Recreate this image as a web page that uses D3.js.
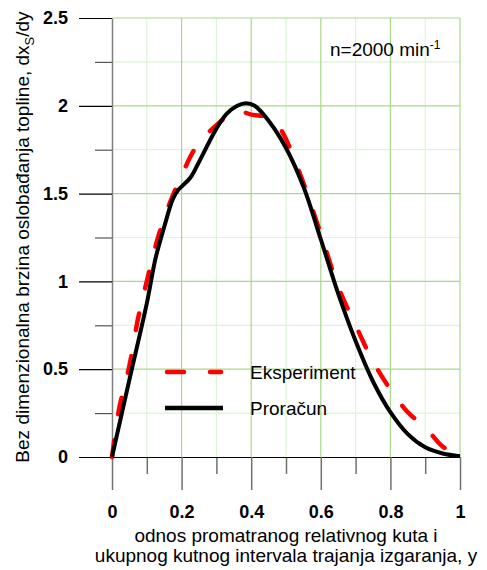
<!DOCTYPE html>
<html>
<head>
<meta charset="utf-8">
<script src="https://cdn.jsdelivr.net/npm/d3@7"></script>
<style>
  body { margin: 0; background: #fff; }
  svg { display: block; font-family: "Liberation Sans", Arial, sans-serif; }
</style>
</head>
<body>
<svg id="chart" width="487" height="570"></svg>
<script>
// ---- data ----
const xMajorTicks = [0, 0.2, 0.4, 0.6, 0.8, 1];
const xMinorTicks = [0.1, 0.3, 0.5, 0.7, 0.9];
const xTickLabels = ["0", "0.2", "0.4", "0.6", "0.8", "1"];
const yMajorTicks = [0, 0.5, 1, 1.5, 2, 2.5];
const yMinorTicks = [0.25, 0.75, 1.25, 1.75, 2.25];
const yTickLabels = ["0", "0.5", "1", "1.5", "2", "2.5"];

const seriesNames = ["Eksperiment", "Proračun"];

// Eksperiment (red dashed)
const expX = [0, 0.02, 0.05, 0.075, 0.1, 0.125, 0.15, 0.175, 0.2, 0.225, 0.25, 0.3, 0.35, 0.375, 0.4, 0.45, 0.475, 0.5, 0.525, 0.55, 0.6, 0.65, 0.7, 0.75, 0.8, 0.85, 0.9, 0.95, 1.0];
const expY = [0, 0.27, 0.52, 0.79, 1.0, 1.2, 1.36, 1.49, 1.6, 1.71, 1.79, 1.89, 1.965, 1.965, 1.95, 1.935, 1.895, 1.81, 1.69, 1.56, 1.27, 0.97, 0.75, 0.545, 0.385, 0.255, 0.17, 0.06, 0.01];

// Proračun (black solid)
const calX = [0, 0.05, 0.1, 0.125, 0.15, 0.175, 0.19, 0.2, 0.225, 0.25, 0.3, 0.33, 0.36, 0.385, 0.41, 0.45, 0.5, 0.55, 0.6, 0.65, 0.7, 0.75, 0.8, 0.85, 0.9, 0.95, 1.0];
const calY = [0, 0.44, 0.875, 1.13, 1.31, 1.47, 1.52, 1.54, 1.59, 1.68, 1.87, 1.955, 2.0, 2.015, 2.0, 1.915, 1.76, 1.54, 1.24, 0.93, 0.66, 0.43, 0.255, 0.13, 0.055, 0.02, 0.005];

const yTitleMain = "Bez dimenzionalna brzina oslobađanja topline, dx";
const yTitleSub = "S";
const yTitleEnd = "/dy";
const xTitle1 = "odnos promatranog relativnog kuta i";
const xTitle2 = "ukupnog kutnog intervala trajanja izgaranja, y";
const annotMain = "n=2000 min";
const annotSup = "-1";

// ---- layout ----
const svg = d3.select("#chart");
const x = d3.scaleLinear().domain([0, 1]).range([112, 460]);
const y = d3.scaleLinear().domain([0, 2.5]).range([457, 18]);

const majorGrid = "#a8d98a";
const minorGrid = "#dcf6d4";

// grid
const grid = svg.append("g");
grid.selectAll(".gxm").data(xMinorTicks).enter().append("line")
  .attr("x1", d => x(d)).attr("x2", d => x(d)).attr("y1", y(0)).attr("y2", y(2.5))
  .attr("stroke", minorGrid).attr("stroke-width", 1.2);
grid.selectAll(".gym").data(yMinorTicks).enter().append("line")
  .attr("x1", x(0)).attr("x2", x(1)).attr("y1", d => y(d)).attr("y2", d => y(d))
  .attr("stroke", minorGrid).attr("stroke-width", 1.2);
grid.selectAll(".gxM").data(xMajorTicks.slice(1)).enter().append("line")
  .attr("x1", d => x(d)).attr("x2", d => x(d)).attr("y1", y(0)).attr("y2", y(2.5))
  .attr("stroke", majorGrid).attr("stroke-width", 1.2);
grid.selectAll(".gyM").data(yMajorTicks.slice(1)).enter().append("line")
  .attr("x1", x(0)).attr("x2", x(1)).attr("y1", d => y(d)).attr("y2", d => y(d))
  .attr("stroke", majorGrid).attr("stroke-width", 1.2);

// y axis minor ticks
const yMin = svg.append("g").attr("transform", `translate(${x(0)},0)`)
  .call(d3.axisLeft(y).tickValues(yMinorTicks).tickSize(17).tickSizeOuter(0).tickFormat(""));
yMin.select(".domain").remove();
yMin.selectAll(".tick line").attr("stroke", "#555").attr("stroke-width", 1.2);

// y axis major
const yAx = svg.append("g").attr("transform", `translate(${x(0)},0)`)
  .call(d3.axisLeft(y).tickValues(yMajorTicks).tickSize(33).tickSizeOuter(0).tickPadding(11)
    .tickFormat((d, i) => yTickLabels[i]));
yAx.select(".domain").attr("stroke", "#808080").attr("stroke-width", 1.5);
yAx.selectAll(".tick line").attr("stroke", "#000").attr("stroke-width", 1.2);
yAx.selectAll(".tick text").attr("font-size", 18).attr("font-weight", "bold")
  .attr("font-family", "Liberation Sans, Arial, sans-serif").attr("fill", "#000");

// x axis minor ticks
const xMin = svg.append("g").attr("transform", `translate(0,${y(0)})`)
  .call(d3.axisBottom(x).tickValues(xMinorTicks).tickSize(17).tickSizeOuter(0).tickFormat(""));
xMin.select(".domain").remove();
xMin.selectAll(".tick line").attr("stroke", "#707070").attr("stroke-width", 1.5);

// x axis major
const xAx = svg.append("g").attr("transform", `translate(0,${y(0)})`)
  .call(d3.axisBottom(x).tickValues(xMajorTicks).tickSize(33).tickSizeOuter(0).tickPadding(15)
    .tickFormat((d, i) => xTickLabels[i]));
xAx.select(".domain").attr("stroke", "#000").attr("stroke-width", 1.2);
xAx.selectAll(".tick line").attr("stroke", "#707070").attr("stroke-width", 1.5);
xAx.selectAll(".tick text").attr("font-size", 18).attr("font-weight", "bold")
  .attr("font-family", "Liberation Sans, Arial, sans-serif").attr("fill", "#000");

// curves
const line = d3.line().x(d => x(d[0])).y(d => y(d[1])).curve(d3.curveCatmullRom.alpha(0.5));
const expData = expX.map((v, i) => [v, expY[i]]);
const calData = calX.map((v, i) => [v, calY[i]]);

svg.append("path").datum(expData).attr("d", line)
  .attr("fill", "none").attr("stroke", "#ff0000").attr("stroke-width", 4.5)
  .attr("stroke-dasharray", "17,26").attr("stroke-linecap", "round");
svg.append("path").datum(calData).attr("d", line)
  .attr("fill", "none").attr("stroke", "#000").attr("stroke-width", 4);

// legend
const lg = svg.append("g");
lg.append("line").attr("x1", 167).attr("x2", 221).attr("y1", 372).attr("y2", 372)
  .attr("stroke", "#ff0000").attr("stroke-width", 4.5)
  .attr("stroke-dasharray", "17,26").attr("stroke-linecap", "round");
lg.append("line").attr("x1", 165).attr("x2", 223).attr("y1", 408).attr("y2", 408)
  .attr("stroke", "#000").attr("stroke-width", 4.5);
lg.append("text").attr("x", 250).attr("y", 379).attr("font-size", 19).text(seriesNames[0]);
lg.append("text").attr("x", 250).attr("y", 415).attr("font-size", 19).text(seriesNames[1]);

// annotation
const an = svg.append("text").attr("x", 330).attr("y", 56).attr("font-size", 19);
an.append("tspan").text(annotMain);
an.append("tspan").attr("font-size", 12).attr("dy", -7).text(annotSup);

// y title
const yt = svg.append("text").attr("transform", "translate(29,237) rotate(-90)")
  .attr("text-anchor", "middle").attr("font-size", 19);
yt.append("tspan").text(yTitleMain);
yt.append("tspan").attr("font-size", 13).attr("dy", 5).text(yTitleSub);
yt.append("tspan").attr("dy", -5).text(yTitleEnd);

// x title
svg.append("text").attr("x", 286).attr("y", 542).attr("text-anchor", "middle")
  .attr("font-size", 19).text(xTitle1);
svg.append("text").attr("x", 286).attr("y", 562).attr("text-anchor", "middle")
  .attr("font-size", 19).text(xTitle2);
</script>
</body>
</html>
